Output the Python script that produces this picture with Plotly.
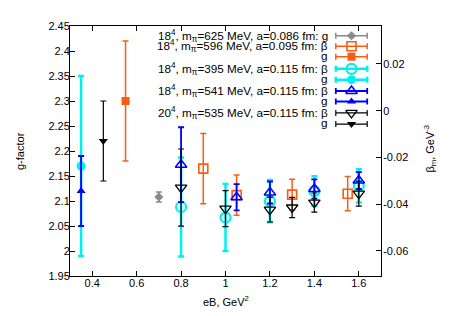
import plotly.graph_objects as go

# ---------------- data ----------------
# g-factor series (left axis)
gray_g_x = [0.7]
gray_g = [2.108]
gray_g_err = [0.010]

orange_g_x = [0.55]
orange_g = [2.30]
orange_g_err = [0.12]

cyan_g_x = [0.35]
cyan_g = [2.17]
cyan_g_err = [0.18]

blue_g_x = [0.35]
blue_g = [2.12]
blue_g_err = [0.07]

black_g_x = [0.45]
black_g = [2.22]
black_g_err = [0.08]

# beta_m series (right axis, GeV^-3)
orange_b_x = [0.9, 1.05, 1.3, 1.55]
orange_b = [-0.0248, -0.0361, -0.0359, -0.0355]
orange_b_err = [0.0150, 0.0086, 0.0066, 0.0073]

cyan_b_x = [0.8, 1.0, 1.2, 1.4, 1.6]
cyan_b = [-0.0412, -0.0457, -0.0387, -0.0344, -0.0322]
cyan_b_err = [0.0212, 0.0143, 0.0090, 0.0064, 0.0071]

blue_b_x = [0.8, 1.05, 1.2, 1.4, 1.6]
blue_b = [-0.0231, -0.0370, -0.0350, -0.0335, -0.0299]
blue_b_err = [0.0160, 0.0056, 0.0047, 0.0041, 0.0036]

black_b_x = [0.8, 1.0, 1.2, 1.3, 1.4, 1.6]
black_b = [-0.0329, -0.0419, -0.0423, -0.0414, -0.0393, -0.0355]
black_b_err = [0.0165, 0.0077, 0.0053, 0.0043, 0.0041, 0.0053]

x_ticks = [0.4, 0.6, 0.8, 1.0, 1.2, 1.4, 1.6]
y2_ticks = [-0.06, -0.04, -0.02, 0.0, 0.02]
y2_tick_text = ["-0.06", "-0.04", "-0.02", "0", "0.02"]

legend_labels = [
    "18<sup>4</sup>, m<sub>π</sub>=625 MeV, a=0.086 fm: g",
    "18<sup>4</sup>, m<sub>π</sub>=596 MeV, a=0.095 fm: β",
    "g",
    "18<sup>4</sup>, m<sub>π</sub>=395 MeV, a=0.115 fm: β",
    "g",
    "18<sup>4</sup>, m<sub>π</sub>=541 MeV, a=0.115 fm: β",
    "g",
    "20<sup>4</sup>, m<sub>π</sub>=535 MeV, a=0.115 fm: β",
    "g",
]

# ---------------- styles ----------------
GRAY = "#8a8a8a"
ORANGE = "#ff5a14"
CYAN = "#00f0f0"
BLUE = "#0000ff"
BLACK = "#000000"
FONT = "Liberation Sans, Arial, sans-serif"

series = [
    # (x, y, err, axis, color, symbol, size, marker line width, bar thickness)
    (gray_g_x, gray_g, gray_g_err, "y", GRAY, "diamond", 7, 0, 1.5),
    (orange_b_x, orange_b, orange_b_err, "y2", ORANGE, "square-open", 9, 1.6, 1.5),
    (orange_g_x, orange_g, orange_g_err, "y", ORANGE, "square", 8, 0, 1.5),
    (cyan_b_x, cyan_b, cyan_b_err, "y2", CYAN, "circle-open", 10, 2.2, 2.5),
    (cyan_g_x, cyan_g, cyan_g_err, "y", CYAN, "circle", 9, 0, 2.5),
    (blue_b_x, blue_b, blue_b_err, "y2", BLUE, "triangle-up-open", 10, 1.5, 1.8),
    (blue_g_x, blue_g, blue_g_err, "y", BLUE, "triangle-up", 8, 0, 1.8),
    (black_b_x, black_b, black_b_err, "y2", BLACK, "triangle-down-open", 10, 1.3, 1.2),
    (black_g_x, black_g, black_g_err, "y", BLACK, "triangle-down", 8, 0, 1.2),
]

fig = go.Figure()
for (xs, ys, es, ax, col, sym, sz, mlw, th) in series:
    fig.add_trace(go.Scatter(
        x=xs, y=ys, yaxis=ax, mode="markers", showlegend=False,
        marker=dict(symbol=sym, size=sz, color=col, line=dict(width=mlw, color=col)),
        error_y=dict(type="data", array=es, visible=True, color=col, thickness=th, width=3),
    ))

# ---------------- custom gnuplot-style key ----------------
W, H = 452, 316
PL, PR, PT, PB = 62, 373, 13, 268


def px(x):
    return (x - PL) / (PR - PL)


def py(y):
    return (PB - y) / (PB - PT)


row_y = [23, 33.7, 44.3, 56.7, 67.7, 79.3, 90, 101.7, 113]
text_right = 322
sample_mid = 343.5
sample_half = 15.7
for i, (lab, s) in enumerate(zip(legend_labels, series)):
    col, sym, sz, mlw, th = s[4], s[5], s[6], s[7], s[8]
    fig.add_trace(go.Scatter(
        x=[sample_mid], y=[row_y[i]], xaxis="x2", yaxis="y3", mode="markers",
        showlegend=False, hoverinfo="skip",
        marker=dict(symbol=sym, size=sz, color=col, line=dict(width=mlw, color=col)),
        error_x=dict(type="constant", value=sample_half, visible=True, color=col, thickness=th, width=3),
    ))
    ty = row_y[i] - (1.5 if lab == "g" else 0)
    fig.add_annotation(x=px(text_right), y=py(ty), xref="paper", yref="paper", text=lab,
                       showarrow=False, xanchor="right", yanchor="middle",
                       font=dict(family=FONT, size=11.7, color="black"))

# axis titles
fig.add_annotation(text="eB, GeV<sup>2</sup>", x=px((PL + PR) / 2), y=py(293), xref="paper", yref="paper",
                   showarrow=False, xanchor="center", yanchor="middle",
                   font=dict(family=FONT, size=11, color="black"))
fig.add_annotation(text="g-factor", x=px(12), y=py((PT + PB) / 2), xref="paper", yref="paper",
                   showarrow=False, textangle=-90, xanchor="center", yanchor="middle",
                   font=dict(family=FONT, size=11, color="black"))
fig.add_annotation(text="β<sub>m</sub>, GeV<sup>-3</sup>", x=px(422), y=py(138), xref="paper", yref="paper",
                   showarrow=False, textangle=-90, xanchor="center", yanchor="middle",
                   font=dict(family=FONT, size=11, color="black"))

axis_common = dict(showgrid=False, zeroline=False, ticks="inside", ticklen=5,
                   tickcolor="black", showline=True, linecolor="black", linewidth=1,
                   tickfont=dict(family=FONT, size=11, color="black"))

fig.update_layout(
    width=W, height=H,
    margin=dict(l=PL, r=W - PR, t=PT, b=H - PB),
    paper_bgcolor="white", plot_bgcolor="white",
    showlegend=False,
    font=dict(family=FONT, size=11, color="black"),
    xaxis=dict(range=[0.3, 1.7], tickvals=x_ticks, mirror="ticks", ticklabelstandoff=-3, **axis_common),
    yaxis=dict(range=[1.95, 2.45], dtick=0.05, tick0=2.0, mirror=False, ticklabelstandoff=-3, **axis_common),
    yaxis2=dict(range=[-0.0707, 0.0362], overlaying="y", side="right",
                tickvals=y2_ticks, ticktext=y2_tick_text, ticklabelstandoff=-1, **axis_common),
    xaxis2=dict(range=[PL, PR], overlaying="x", visible=False, fixedrange=True),
    yaxis3=dict(range=[PB, PT], overlaying="y", visible=False, fixedrange=True),
)

fig.write_html("out.html")
